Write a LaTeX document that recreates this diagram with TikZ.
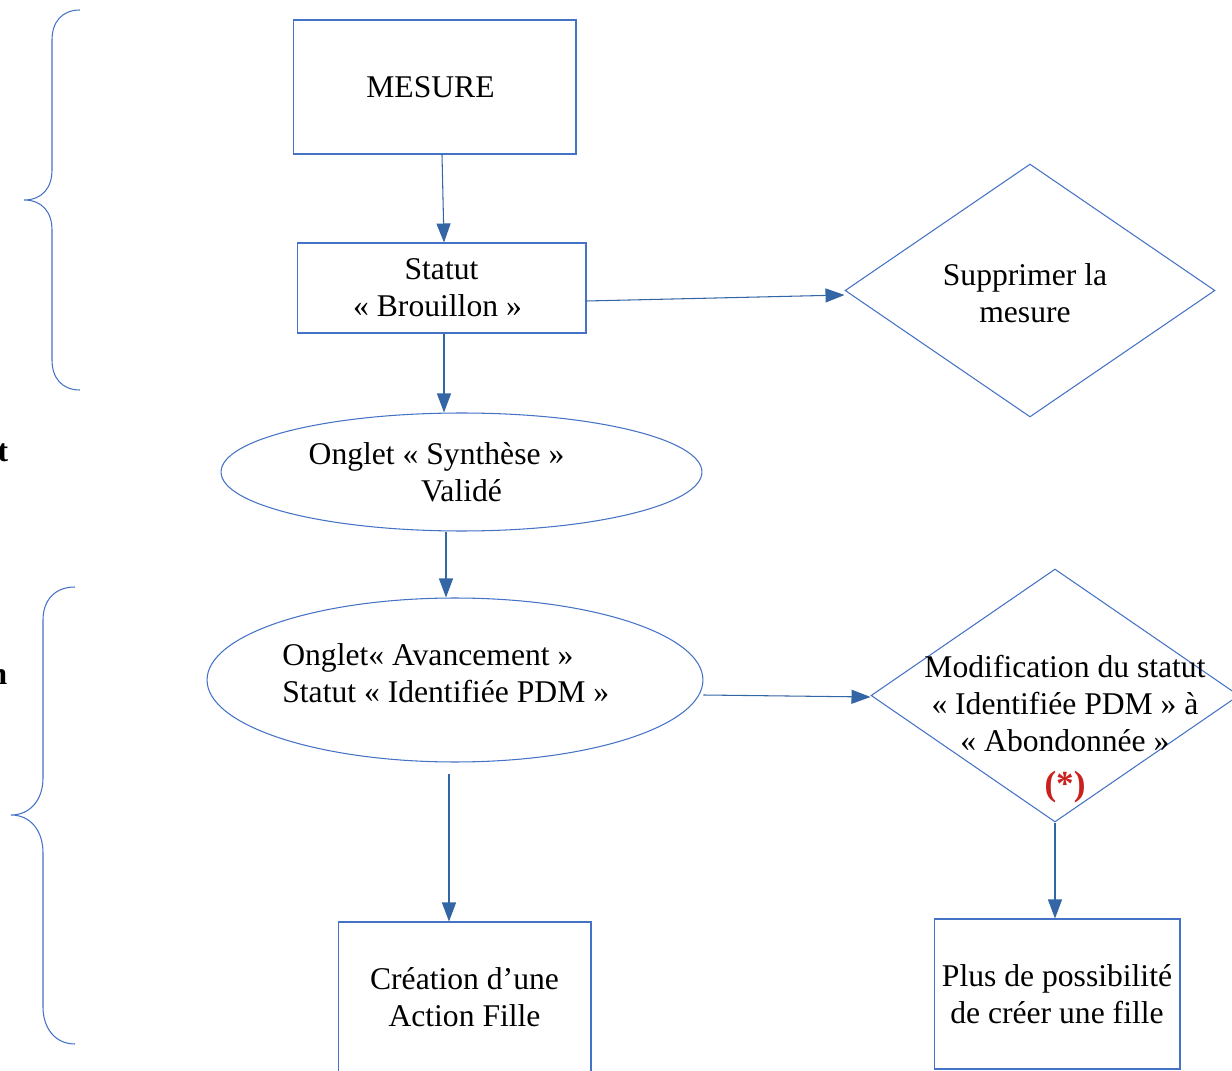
\documentclass[tikz,border=0pt]{standalone}
\usepackage{fontspec}
\setmainfont{Liberation Serif}
\usetikzlibrary{positioning,shapes.geometric,arrows.meta}
\definecolor{bord}{RGB}{68,114,196}
\definecolor{fleche}{RGB}{52,101,164}
\definecolor{rouge}{RGB}{201,33,30}

\begin{document}
\begin{tikzpicture}[
		x=0.02cm, y=-0.02cm
		,every node/.append style={font=\fontsize{18}{21}\selectfont, inner sep=0pt, align=center}
		,boite/.style={rectangle, draw=bord, line width=0.6pt}
		,ell/.style={ellipse, draw=bord, line width=0.6pt}
		,losange/.style={diamond, draw=bord, line width=0.6pt}
		,fl/.style={draw=fleche, line width=0.6pt, -{Triangle[width=0.28cm, length=0.38cm]}}
		,acc/.style={draw=bord, line width=0.6pt}
		,coupe/.style={font=\fontsize{18}{21}\selectfont\bfseries, anchor=east}
	]
		\useasboundingbox (0,0) rectangle (1232,1071);

		% accolades
		\draw [acc] (80,10) .. controls (62,10) and (52,22) .. (52,40) -- (52,170)
			.. controls (52,188) and (42,200) .. (24,200)
			.. controls (42,200) and (52,212) .. (52,230) -- (52,360)
			.. controls (52,378) and (62,390) .. (80,390);
		\draw [acc] (75,587) .. controls (55,587) and (43,600) .. (43,620) -- (43,778)
			.. controls (43,800) and (30,815) .. (11,815)
			.. controls (30,815) and (43,830) .. (43,853) -- (43,1007)
			.. controls (43,1028) and (55,1044) .. (75,1044);
		\node [coupe] (t) at (8.5,453) {t};
		\node [coupe] (n) at (7.5,677) {n};

		% formes
		\node [boite, minimum width=5.66cm, minimum height=2.68cm] (mes) at (434.5,87) {\raisebox{-0.06cm}{MESURE}\hspace*{0.16cm}};
		\node [boite, minimum width=5.78cm, minimum height=1.8cm] (brl) at (441.5,288) {Statut\\« Brouillon »\hspace*{0.16cm}};
		\node [losange, minimum width=7.4cm, minimum height=5.06cm] (sup) at (1030,290.5) {};
		\node (suptxt) at (1025,293.5) {Supprimer la\\mesure};
		\node [ell, minimum width=9.62cm, minimum height=2.36cm] (syn) at (461.5,472) {Onglet « Synthèse »\hspace*{1cm}\\Validé};
		\node [ell, minimum width=9.92cm, minimum height=3.28cm] (av) at (455,680) {};
		\node [anchor=west, align=left] (avtxt) at (282,673) {Onglet« Avancement »\\Statut « Identifiée PDM »};
		\node [losange, minimum width=7.36cm, minimum height=5.06cm] (mod) at (1055,695.5) {};
		\node (modtxt) at (1065,729) {Modification du statut\\ « Identifiée PDM » à\\« Abondonnée »\\[4pt]{\fontsize{20}{24}\selectfont\bfseries\color{rouge}(*)}};
		\node [boite, minimum width=5.06cm, minimum height=3cm] (cre) at (464.5,997) {Création d’une\\Action Fille};
		\node [boite, minimum width=4.92cm, minimum height=3cm] (plus) at (1057,994) {Plus de possibilité\\de créer une fille};

		% fleches
		\draw [fl] ([xshift=0.15cm]mes.south) -- ([xshift=0.05cm]brl.north);
		\draw [fl] ([xshift=0.05cm]brl.south) -- ([xshift=0.05cm]brl.south |- syn.north);
		\draw [fl] ([yshift=-0.26cm]brl.east) -- ([yshift=-0.09cm]sup.west);
		\draw [fl] ([xshift=-0.31cm]syn.south) -- ([xshift=-0.31cm]syn.south |- av.north);
		\draw [fl] ([xshift=-0.12cm,yshift=-0.22cm]av.south) -- ([xshift=-0.12cm]av.south |- cre.north);
		\draw [fl] ([yshift=-0.3cm]av.east) -- ([yshift=-0.03cm]mod.west);
		\draw [fl] (mod.south) -- (mod.south |- plus.north);
	\end{tikzpicture}
\end{document}
